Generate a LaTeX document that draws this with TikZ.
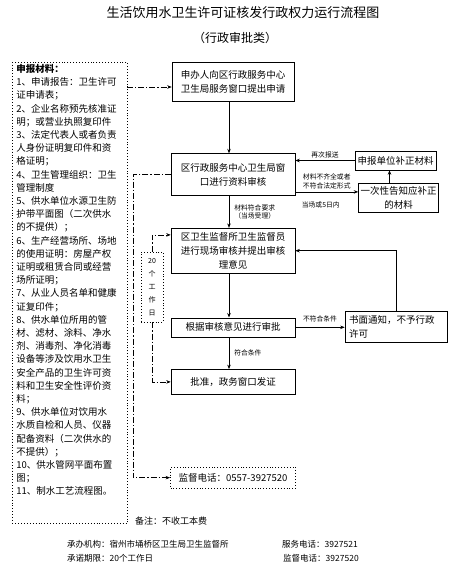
\documentclass[tikz,border=0pt]{standalone}
\usepackage{fontspec}
\setmainfont{Noto Sans CJK SC}
\usetikzlibrary{positioning, arrows.meta}

\begin{document}
\begin{tikzpicture}[x=1pt, y=-1pt,
    flow/.style={draw, line width=0.6pt, align=center, inner sep=2pt,
                 font=\fontsize{9.5}{14}\selectfont},
    dotbox/.style={draw, dotted, line width=0.9pt, inner sep=2pt},
    arr/.style={-{Stealth[length=4.5pt, width=3.5pt]}, line width=0.6pt},
    dda/.style={arr, dash pattern=on 6pt off 2pt on 1.2pt off 2pt},
    lbl/.style={font=\fontsize{6.8}{8.5}\selectfont, inner sep=1pt, align=center},
    foot/.style={anchor=west, inner sep=0pt, font=\fontsize{8.5}{10}\selectfont},
]
\useasboundingbox (0,0) rectangle (460,568);

% Title
\node[font=\fontsize{13}{15}\selectfont] (title) at (243,13)
    {生活饮用水卫生许可证核发行政权力运行流程图};
\node[font=\fontsize{12}{14}\selectfont] (subtitle) at (235,38) {（行政审批类）};

% Materials
\node[dotbox, anchor=north west, text width=107pt, inner xsep=4pt,
      minimum height=457pt, align=left,
      font=\fontsize{9.5}{13.2}\selectfont] (mat) at (12,62)
    {{\bfseries 申报材料：}\\
     1、申请报告：卫生许可\\
     证申请表；\\
     2、企业名称预先核准证\\
     明；或营业执照复印件\\
     3、法定代表人或者负责\\
     人身份证明复印件和资\\
     格证明；\\
     4、卫生管理组织：卫生\\
     管理制度\\
     5、供水单位水源卫生防\\
     护带平面图（二次供水\\
     的不提供）；\\
     6、生产经营场所、场地\\
     的使用证明：房屋产权\\
     证明或租赁合同或经营\\
     场所证明；\\
     7、从业人员名单和健康\\
     证复印件；\\
     8、供水单位所用的管\\
     材、滤材、涂料、净水\\
     剂、消毒剂、净化消毒\\
     设备等涉及饮用水卫生\\
     安全产品的卫生许可资\\
     料和卫生安全性评价资\\
     料；\\
     9、供水单位对饮用水\\
     水质自检和人员、仪器\\
     配备资料（二次供水的\\
     不提供）；\\
     10、供水管网平面布置\\
     图；\\
     11、制水工艺流程图。\\
     ~\\
     ~};

% Main flow
\node[flow, minimum width=122pt, minimum height=39pt] (A) at (233,81.5)
    {申办人向区行政服务中心\\卫生局服务窗口提出申请};
\node[flow, minimum width=124pt, minimum height=42pt, below=52pt of A] (B)
    {区行政服务中心卫生局窗\\口进行资料审核};
\node[flow, minimum width=124pt, minimum height=45pt, below=32pt of B] (C)
    {区卫生监督所卫生监督员\\进行现场审核并提出审核\\理意见};
\node[flow, minimum width=124pt, minimum height=19pt, below=44pt of C] (D)
    {根据审核意见进行审批};
\node[flow, minimum width=124pt, minimum height=25pt, below=32pt of D] (E)
    {批准，政务窗口发证};
\node[dotbox, minimum width=125pt, minimum height=21pt, below=72pt of E,
      font=\fontsize{9.5}{12}\selectfont] (phone)
    {监督电话：0557-3927520};

% Side boxes
\node[flow, minimum width=81pt, minimum height=19pt] (G) at (395.5,160.5)
    {申报单位补正材料};
\node[flow, minimum width=77pt, minimum height=29pt] (H) at (398.5,197.5)
    {一次性告知应补正\\的材料};
\node[flow, minimum width=102pt, minimum height=31pt, text width=94pt,
      align=left] (F) at (396,326.5)
    {书面通知，不予行政\\许可};
\node[dotbox, minimum width=22pt, minimum height=70pt, align=center,
      font=\fontsize{7}{13}\selectfont] (days) at (152,287)
    {20\\个\\工\\作\\日};

\coordinate (spine) at (229,0);
\coordinate (rail) at (133,0);
\coordinate (matout) at (127,87);
\coordinate (bh) at ([yshift=4pt]B.south east);

% Arrows
\draw[arr] (A.south -| spine) -- (B.north -| spine);
\draw[arr] (B.south -| spine) -- node[lbl, right=4pt] {材料符合要求\\（当场受理）}
    (C.north -| spine);
\draw[arr] (C.south -| spine) -- (D.north -| spine);
\draw[arr] (D.south -| spine) -- node[lbl, right=4pt] {符合条件} (E.north -| spine);

\draw[arr] (D.east) -- node[lbl, above=4pt] {不符合条件} (D.east -| F.west);
\draw[arr] (F.north) |- (C.east);
\draw[arr] (bh) -- node[lbl, above=2pt] {材料不齐全或者\\不符合法定形式}
    node[lbl, below=9pt, xshift=-6pt] {当场或5日内} (bh -| H.west);
\draw[arr] (G.west) -- node[lbl, above=1pt] {再次报送} (G.west -| B.east);
\draw[arr] ([xshift=-9pt]H.north) -- ([xshift=-9pt]H.north |- G.south);

% Dash-dot links
\draw[dda] (matout) -- (matout -| A.west);
\draw[dda] (B.west) -- (B.west -| rail) |- (phone.west);
\draw[dda] (days.north) |- ([yshift=-7pt]C.north west);
\draw[dda] (days.south) |- (E.west);

% Footer
\node[foot, font=\fontsize{9}{10}\selectfont] (note) at (135,521) {备注：不收工本费};
\node[foot] (org) at (67,544) {承办机构：宿州市埇桥区卫生局卫生监督所};
\node[foot] (tel1) at (282,544) {服务电话：3927521};
\node[foot] (term) at (67,558) {承诺期限：20个工作日};
\node[foot] (tel2) at (283,558) {监督电话：3927520};

\end{tikzpicture}
\end{document}
